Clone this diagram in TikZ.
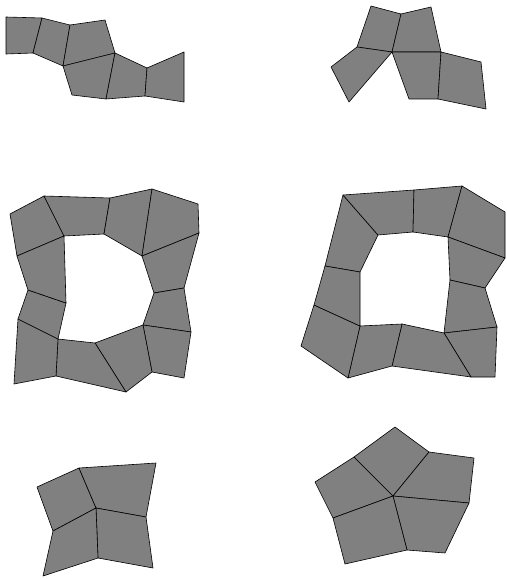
\documentclass[tikz,border=0pt]{standalone}
\definecolor{tilegray}{RGB}{128,128,128}

\begin{document}
\begin{tikzpicture}[x=1pt, y=-1pt, line join=round]
\tikzset{
  tile/.style={draw=black, fill=tilegray, line width=0.6pt}
}
\useasboundingbox (0,0) rectangle (506,580);

\draw[tile] (6,17) -- (42,18) -- (33,53) -- (6,54) -- cycle;
\draw[tile] (42,18) -- (70,25) -- (63,66) -- (33,53) -- cycle;
\draw[tile] (70,25) -- (105,20) -- (115,53) -- (63,66) -- cycle;
\draw[tile] (63,66) -- (115,53) -- (106,99) -- (72,95) -- cycle;
\draw[tile] (115,53) -- (147,68) -- (145,96) -- (106,99) -- cycle;
\draw[tile] (147,68) -- (184,52) -- (184,102) -- (145,96) -- cycle;

\draw[tile] (371,6) -- (401,14) -- (392,52) -- (357,47) -- cycle;
\draw[tile] (401,14) -- (431,7) -- (441,52) -- (392,52) -- cycle;
\draw[tile] (357,47) -- (392,52) -- (349,102) -- (331,67) -- cycle;
\draw[tile] (392,52) -- (441,52) -- (438,99) -- (409,99) -- cycle;
\draw[tile] (441,52) -- (481,62) -- (486,109) -- (438,99) -- cycle;

\draw[tile] (10,214) -- (44,196) -- (64,236) -- (17,256) -- cycle;
\draw[tile] (44,196) -- (110,198) -- (104,234) -- (64,236) -- cycle;
\draw[tile] (110,198) -- (152,189) -- (142,256) -- (104,234) -- cycle;
\draw[tile] (152,189) -- (198,204) -- (199,233) -- (142,256) -- cycle;
\draw[tile] (142,256) -- (199,233) -- (184,288) -- (154,293) -- cycle;
\draw[tile] (154,293) -- (184,288) -- (191,332) -- (143,325) -- cycle;
\draw[tile] (143,325) -- (191,332) -- (184,378) -- (152,372) -- cycle;
\draw[tile] (95,343) -- (143,325) -- (152,372) -- (126,392) -- cycle;
\draw[tile] (58,339) -- (95,343) -- (126,392) -- (56,376) -- cycle;
\draw[tile] (18,319) -- (58,339) -- (56,376) -- (14,384) -- cycle;
\draw[tile] (28,290) -- (66,303) -- (58,339) -- (18,319) -- cycle;
\draw[tile] (17,256) -- (64,236) -- (66,303) -- (28,290) -- cycle;

\draw[tile] (343,195) -- (378,235) -- (360,272) -- (325,266) -- cycle;
\draw[tile] (343,195) -- (414,190) -- (413,232) -- (378,235) -- cycle;
\draw[tile] (414,190) -- (462,186) -- (448,237) -- (413,232) -- cycle;
\draw[tile] (462,186) -- (505,212) -- (505,258) -- (448,237) -- cycle;
\draw[tile] (448,237) -- (505,258) -- (485,288) -- (450,280) -- cycle;
\draw[tile] (450,280) -- (485,288) -- (497,327) -- (444,333) -- cycle;
\draw[tile] (444,333) -- (497,327) -- (495,377) -- (471,377) -- cycle;
\draw[tile] (402,324) -- (444,333) -- (471,377) -- (392,366) -- cycle;
\draw[tile] (360,326) -- (402,324) -- (392,366) -- (348,378) -- cycle;
\draw[tile] (314,305) -- (360,326) -- (348,378) -- (301,346) -- cycle;
\draw[tile] (325,266) -- (360,272) -- (360,326) -- (314,305) -- cycle;

\draw[tile] (37,487) -- (79,468) -- (96,508) -- (53,531) -- cycle;
\draw[tile] (79,468) -- (156,463) -- (146,517) -- (96,508) -- cycle;
\draw[tile] (96,508) -- (146,517) -- (153,568) -- (98,558) -- cycle;
\draw[tile] (53,531) -- (96,508) -- (98,558) -- (43,576) -- cycle;

\draw[tile] (315,482) -- (354,457) -- (393,496) -- (333,518) -- cycle;
\draw[tile] (354,457) -- (395,427) -- (429,452) -- (393,496) -- cycle;
\draw[tile] (429,452) -- (474,458) -- (469,503) -- (393,496) -- cycle;
\draw[tile] (393,496) -- (469,503) -- (445,553) -- (407,550) -- cycle;
\draw[tile] (333,518) -- (393,496) -- (407,550) -- (345,564) -- cycle;
\end{tikzpicture}
\end{document}
